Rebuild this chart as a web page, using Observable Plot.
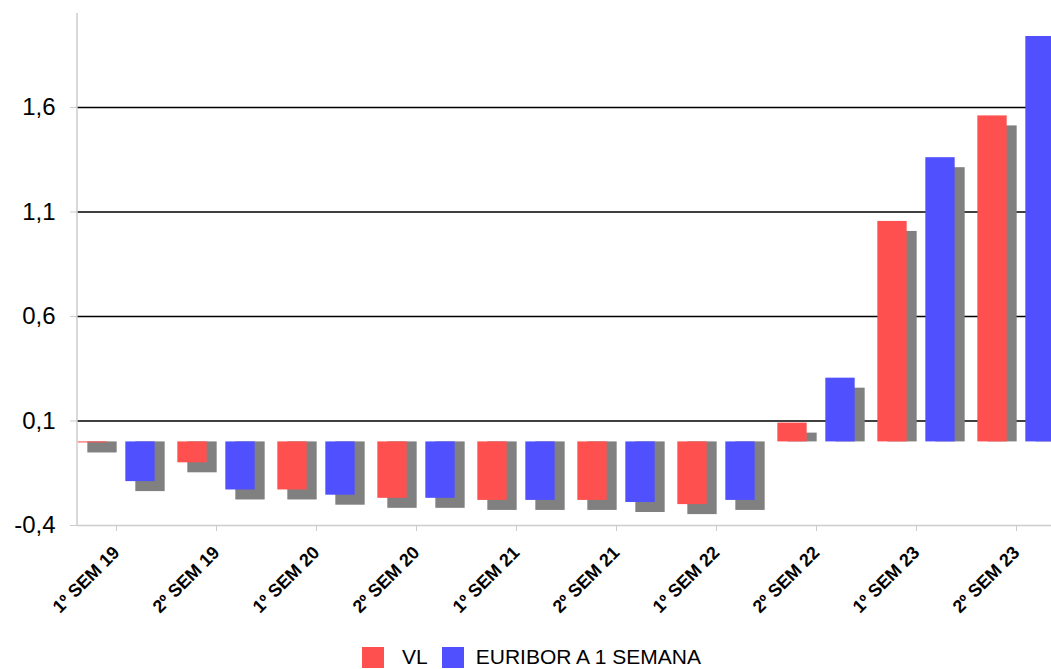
<!DOCTYPE html>
<html>
<head>
<meta charset="utf-8">
<script src="https://cdn.jsdelivr.net/npm/d3@7"></script>
<script src="https://cdn.jsdelivr.net/npm/@observablehq/plot@0.6"></script>
<style>
  html, body { margin: 0; padding: 0; background: #fff; }
  #wrap { width: 1051px; height: 669px; overflow: hidden; position: relative; font-family: "Liberation Sans", Arial, sans-serif; }
  #chart svg { overflow: hidden; display: block; }
  #legend { display: flex; align-items: center; justify-content: center; padding-left: 12px; margin-top: 20px; font-size: 21px; color: #000; }
  .sw { width: 22px; height: 21px; display: inline-block; }
  .lab0 { margin-left: 18px; margin-right: 14px; }
  .lab1 { margin-left: 12px; }
</style>
</head>
<body>
<div id="wrap">
  <div id="chart"></div>
  <div id="legend"></div>
</div>
<script>
const categories = ["1º SEM 19","2º SEM 19","1º SEM 20","2º SEM 20","1º SEM 21","2º SEM 21","1º SEM 22","2º SEM 22","1º SEM 23","2º SEM 23"];
const vl      = [-0.005, -0.10, -0.23, -0.27, -0.28, -0.28, -0.30, 0.09, 1.055, 1.56];
const euribor = [-0.19, -0.23, -0.255, -0.27, -0.28, -0.29, -0.28, 0.305, 1.36, 1.94];
const seriesNames = ["VL", "EURIBOR A 1 SEMANA"];
const seriesColors = ["#ff5050", "#5050ff"];
const yTicks = [-0.4, 0.1, 0.6, 1.1, 1.6];
const gridTicks = [0.1, 0.6, 1.1, 1.6];

const W = 1051, H = 625, mTop = 13, mBottom = 100, mLeft = 77;
const yDomain = [-0.4, 2.05];
const pxPerUnit = (H - mTop - mBottom) / (yDomain[1] - yDomain[0]);
const shadowOff = 10 / pxPerUnit;

const bandStart = 62.7, bandEnd = 1069.3;
const bw = (bandEnd - bandStart) / categories.length;
const barW = 30, gap = 18;
const outer = (bw - 2 * barW - gap) / 2;

const rows = [];
categories.forEach((c, i) => {
  rows.push({cat: c, series: seriesNames[0], value: vl[i]});
  rows.push({cat: c, series: seriesNames[1], value: euribor[i]});
});
const redRows = rows.filter(d => d.series === seriesNames[0]);
const blueRows = rows.filter(d => d.series === seriesNames[1]);

const fmt = d => String(d).replace(".", ",");

const insetsFor = (k) => k === 0
  ? {insetLeft: outer, insetRight: bw - outer - barW}
  : {insetLeft: bw - outer - barW, insetRight: outer};

const plot = Plot.plot({
  width: W,
  height: H,
  marginTop: mTop,
  marginBottom: mBottom,
  marginLeft: mLeft,
  marginRight: 0,
  style: {fontFamily: "Liberation Sans, Arial, sans-serif", background: "#fff", overflow: "hidden"},
  x: {domain: categories, range: [bandStart, bandEnd], padding: 0, label: null},
  y: {domain: yDomain, label: null},
  marks: [
    Plot.ruleY(gridTicks, {stroke: "#000", strokeWidth: 1.6}),
    Plot.barY(redRows, {x: "cat", y1: 0, y2: d => d.value - shadowOff, fill: "#808080", dx: 10, ...insetsFor(0)}),
    Plot.barY(blueRows, {x: "cat", y1: 0, y2: d => d.value - shadowOff, fill: "#808080", dx: 10, ...insetsFor(1)}),
    Plot.barY(redRows, {x: "cat", y1: 0, y2: "value", fill: seriesColors[0], ...insetsFor(0)}),
    Plot.barY(blueRows, {x: "cat", y1: 0, y2: "value", fill: seriesColors[1], ...insetsFor(1)}),
    Plot.ruleY([yDomain[0]], {stroke: "#cccccc", strokeWidth: 1.5}),
    Plot.axisY({ticks: yTicks, tickFormat: fmt, tickSize: 7, tickPadding: 15, stroke: "#cccccc", fontSize: 24, label: null}),
    Plot.axisX({tickSize: 6, tickPadding: 18, tickRotate: -45, stroke: "#cccccc", fontSize: 18, fontWeight: "bold", label: null})
  ]
});
document.getElementById("chart").appendChild(plot);

// left axis domain line drawn with the plot's own y scale
const ys = plot.scale("y");
const svg = d3.select(plot);
svg.append("line")
  .attr("x1", mLeft).attr("x2", mLeft)
  .attr("y1", ys.apply(yDomain[1])).attr("y2", ys.apply(yDomain[0]))
  .attr("stroke", "#cccccc").attr("stroke-width", 1.5);
svg.selectAll("text").attr("fill", "#000");

const legend = document.getElementById("legend");
seriesNames.forEach((s, i) => {
  const sw = document.createElement("span");
  sw.className = "sw";
  sw.style.background = seriesColors[i];
  const t = document.createElement("span");
  t.className = "lab" + i;
  t.textContent = s;
  legend.appendChild(sw);
  legend.appendChild(t);
});
</script>
</body>
</html>
